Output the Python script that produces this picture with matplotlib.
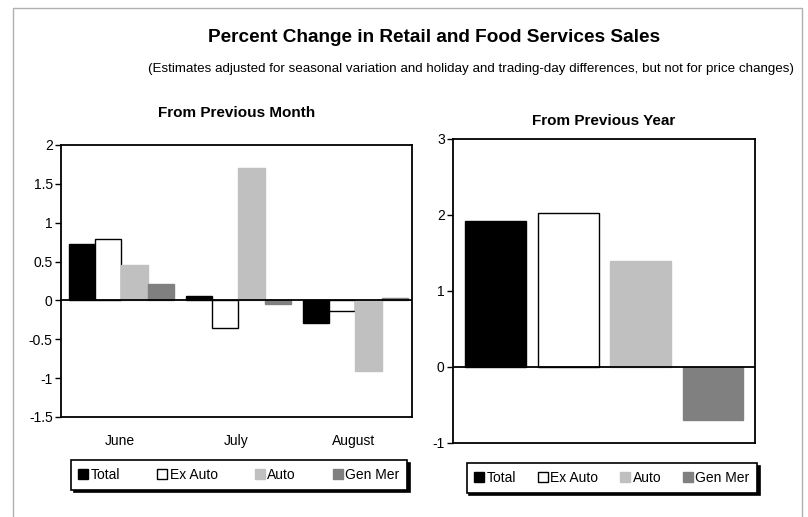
import matplotlib
matplotlib.use("Agg")
import matplotlib.pyplot as plt
from matplotlib.patches import Patch, Rectangle
import numpy as np

plt.rcParams['font.family'] = ['Liberation Sans', 'DejaVu Sans']
plt.rcParams['axes.unicode_minus'] = False

series = ['Total', 'Ex Auto', 'Auto', 'Gen Mer']
colors = ['black', 'white', '#c0c0c0', '#808080']
edges = ['black', 'black', '#c0c0c0', '#808080']

months = ['June', 'July', 'August']
month_vals = {
    'Total':   [0.72, 0.06, -0.29],
    'Ex Auto': [0.79, -0.36, -0.13],
    'Auto':    [0.46, 1.71, -0.91],
    'Gen Mer': [0.21, -0.04, 0.03],
}
year_vals = [1.92, 2.03, 1.40, -0.70]

fig = plt.figure(figsize=(8.08, 5.17), dpi=100)

# gray outer frame
fig.add_artist(Rectangle((13 / 808, -0.05), (802 - 13) / 808, 1.05 - 8 / 517,
                         transform=fig.transFigure, fill=False,
                         edgecolor='#b0b0b0', lw=1))

fig.text(434 / 808, 1 - 38 / 517, 'Percent Change in Retail and Food Services Sales',
         ha='center', va='center', fontsize=13.7, fontweight='bold')
fig.text(471 / 808, 1 - 69 / 517,
         '(Estimates adjusted for seasonal variation and holiday and trading-day differences, but not for price changes)',
         ha='center', va='center', fontsize=9.6)


def style(ax):
    for s in ax.spines.values():
        s.set_linewidth(1.3)
    ax.axhline(0, color='black', lw=1.3, zorder=3)
    ax.tick_params(axis='y', direction='out', length=4, width=1, labelsize=10, pad=2)


# left: from previous month
ax1 = fig.add_axes([61 / 808, 1 - 417 / 517, 351 / 808, 272 / 517])
w = 0.226
x = np.arange(len(months))
for i, s in enumerate(series):
    ax1.bar(x + (i - 1.5) * w + 0.017, month_vals[s], w, color=colors[i],
            edgecolor=edges[i], lw=1.0, zorder=2)
ax1.set_xlim(-0.5, 2.5)
ax1.set_ylim(-1.5, 2)
ax1.set_yticks([-1.5, -1, -0.5, 0, 0.5, 1, 1.5, 2])
ax1.set_yticklabels(['-1.5', '-1', '-0.5', '0', '0.5', '1', '1.5', '2'])
ax1.set_xticks(x)
ax1.set_xticklabels(months)
ax1.tick_params(axis='x', length=0, labelsize=10, pad=12)
style(ax1)
ax1.set_title('From Previous Month', fontsize=11, fontweight='bold', pad=20)

# right: from previous year
ax2 = fig.add_axes([453 / 808, 1 - 443 / 517, 302 / 808, 304 / 517])
xs = np.arange(len(series))
ax2.bar(xs, year_vals, 0.84, color=colors, edgecolor=edges, lw=1.0, zorder=2)
ax2.set_xlim(-0.59, 3.58)
ax2.set_ylim(-1, 3)
ax2.set_yticks([-1, 0, 1, 2, 3])
ax2.set_xticks([])
style(ax2)
ax2.set_title('From Previous Year', fontsize=11, fontweight='bold', pad=10)

handles = [Patch(facecolor=colors[i], edgecolor=edges[i], lw=1) for i in range(4)]
shadow = {'color': 'black', 'alpha': 1}
for cx, cy, spacing in [(239, 475, 2.66), (612, 478, 1.56)]:
    fig.legend(handles, series, loc='center', ncol=4,
               bbox_to_anchor=(cx / 808, 1 - cy / 517),
               fontsize=10, frameon=True, fancybox=False, shadow=shadow,
               edgecolor='black', framealpha=1, handlelength=0.7,
               handleheight=0.7, handletextpad=0.2, columnspacing=spacing,
               borderpad=0.55).get_frame().set_linewidth(1.2)

fig.savefig('out.png', dpi=100)
